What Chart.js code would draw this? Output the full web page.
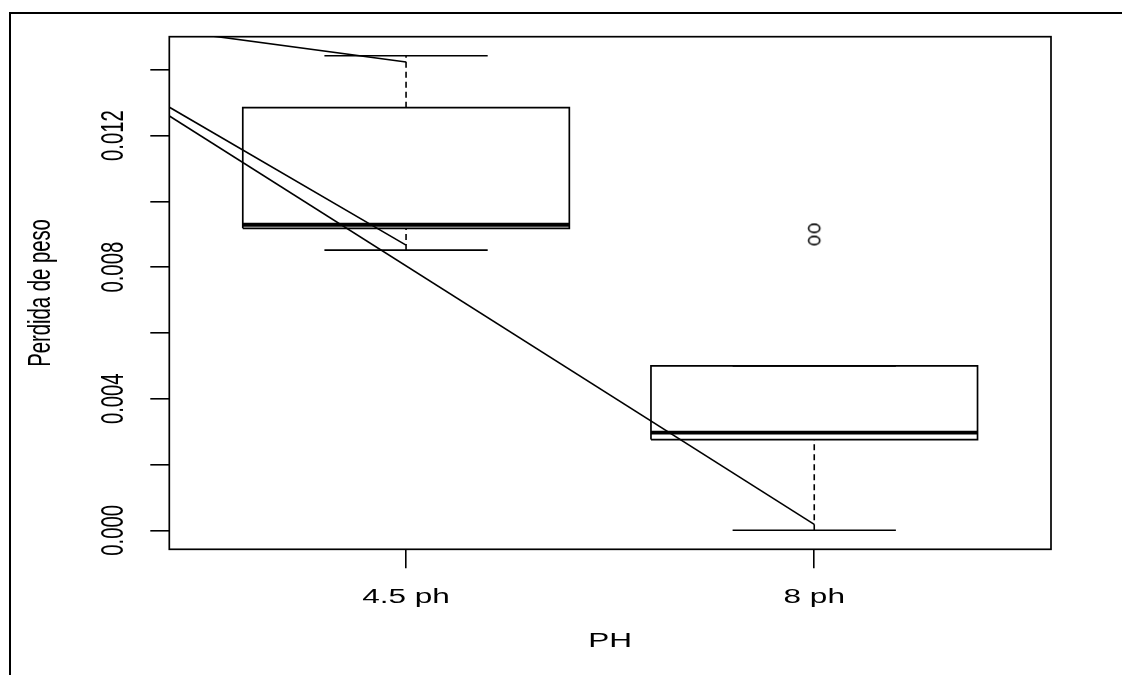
<!DOCTYPE html>
<html>
<head>
<meta charset="utf-8">
<script src="https://cdn.jsdelivr.net/npm/chart.js@4/dist/chart.umd.min.js"></script>
<style>
    body { margin: 0; background: #fff; }
    #wrap { width: 1122px; height: 675px; position: relative; }
</style>
</head>
<body>
<div id="wrap"><canvas id="boxChart"></canvas></div>
<script>
// groups and box statistics
var categories = ['4.5 ph', '8 ph'];
var lowerWhisker = [0.00852, 0.00000];
var lowerQuartile = [0.00918, 0.00276];
var medians = [0.00929, 0.00297];
var upperQuartile = [0.01285, 0.00500];
var upperWhisker = [0.01443, 0.00500];
var outliers = [[], [0.00918, 0.00881]];

// straight lines drawn over the boxes
var lineStartX = 0;
var lineStartY = 0.0159;
var lineEndX = [1, 1, 2];
var lineEndY = [0.01424, 0.00867, 0.00018];

// y axis ticks
var yTicks = [0, 0.002, 0.004, 0.006, 0.008, 0.010, 0.012, 0.014];
var yTickLabels = ['0.000', '', '0.004', '', '0.008', '', '0.012', ''];

var xTitle = 'PH';
var yTitle = 'Perdida de peso';

document.addEventListener('DOMContentLoaded', function () {
    var SX = 1.556; // the picture is stretched sideways
    var FONT = '20.3px "Liberation Sans", Arial, sans-serif';

    // axis limits like R: 4% beyond the data
    var allVals = lowerWhisker.concat(upperWhisker);
    outliers.forEach(function (o) { allVals = allVals.concat(o); });
    var lo = Math.min.apply(null, allVals);
    var hi = Math.max.apply(null, allVals);
    var yMin = lo - 0.04 * (hi - lo);
    var yMax = hi + 0.04 * (hi - lo);
    var xMin = 0.5 - 0.04 * categories.length;
    var xMax = categories.length + 0.5 + 0.04 * categories.length;

    function seg(points, width, dash) {
        return {
            data: points,
            showLine: true,
            borderColor: '#000',
            borderWidth: width,
            borderDash: dash || [],
            pointRadius: 0,
            fill: false,
            tension: 0
        };
    }

    var datasets = [];
    categories.forEach(function (c, i) {
        var x = i + 1;
        var hw = 0.4, cw = 0.2;
        datasets.push(seg([
            { x: x - hw, y: lowerQuartile[i] }, { x: x + hw, y: lowerQuartile[i] },
            { x: x + hw, y: upperQuartile[i] }, { x: x - hw, y: upperQuartile[i] },
            { x: x - hw, y: lowerQuartile[i] }
        ], 1.7));
        datasets.push(seg([{ x: x - hw, y: medians[i] }, { x: x + hw, y: medians[i] }], 3.8));
        if (upperWhisker[i] > upperQuartile[i]) {
            datasets.push(seg([{ x: x, y: upperQuartile[i] }, { x: x, y: upperWhisker[i] }], 1.6, [6, 4]));
        }
        if (lowerWhisker[i] < lowerQuartile[i]) {
            datasets.push(seg([{ x: x, y: lowerWhisker[i] }, { x: x, y: lowerQuartile[i] }], 1.6, [6, 4]));
        }
        datasets.push(seg([{ x: x - cw, y: upperWhisker[i] }, { x: x + cw, y: upperWhisker[i] }], 1.6));
        datasets.push(seg([{ x: x - cw, y: lowerWhisker[i] }, { x: x + cw, y: lowerWhisker[i] }], 1.6));
    });

    // open circles, squashed like the picture
    var ring = document.createElement('canvas');
    ring.width = 16; ring.height = 12;
    var rc = ring.getContext('2d');
    rc.strokeStyle = '#000';
    rc.lineWidth = 1.6;
    rc.beginPath();
    rc.ellipse(8, 6, 5.6, 4.1, 0, 0, Math.PI * 2);
    rc.stroke();

    var outPts = [];
    outliers.forEach(function (o, i) {
        o.forEach(function (v) { outPts.push({ x: i + 1, y: v }); });
    });
    datasets.push({ data: outPts, showLine: false, pointStyle: ring, pointRadius: 6 });

    lineEndX.forEach(function (ex, k) {
        datasets.push(seg([{ x: lineStartX, y: lineStartY }, { x: ex, y: lineEndY[k] }], 1.6));
    });

    function stretchedText(ctx, text, x, y, rotate, baseline) {
        ctx.save();
        ctx.translate(x, y);
        ctx.scale(SX, 1);
        if (rotate) ctx.rotate(-Math.PI / 2);
        ctx.font = FONT;
        ctx.fillStyle = '#000';
        ctx.textAlign = 'center';
        ctx.textBaseline = baseline;
        ctx.fillText(text, 0, 0);
        ctx.restore();
    }

    var framePlugin = {
        id: 'rframe',
        afterDraw: function (chart) {
            var ctx = chart.ctx;
            var a = chart.chartArea;
            var xs = chart.scales.x, ys = chart.scales.y;
            ctx.save();
            // outer figure frame
            ctx.strokeStyle = '#000';
            ctx.lineWidth = 2;
            ctx.beginPath();
            ctx.moveTo(10, 700);
            ctx.lineTo(10, 13);
            ctx.lineTo(1140, 13);
            ctx.stroke();
            // plot box
            ctx.lineWidth = 1.7;
            ctx.strokeRect(a.left, a.top, a.right - a.left, a.bottom - a.top);
            ctx.restore();

            yTicks.forEach(function (v, k) {
                if (yTickLabels[k]) {
                    stretchedText(ctx, yTickLabels[k], a.left - 55, ys.getPixelForValue(v), true, 'middle');
                }
            });
            categories.forEach(function (c, i) {
                stretchedText(ctx, c, xs.getPixelForValue(i + 1), a.bottom + 54, false, 'alphabetic');
            });
            stretchedText(ctx, xTitle, (a.left + a.right) / 2, a.bottom + 98, false, 'alphabetic');
            stretchedText(ctx, yTitle, a.left - 119, (a.top + a.bottom) / 2, true, 'alphabetic');
        }
    };

    var ctxBox = document.getElementById('boxChart').getContext('2d');
    new Chart(ctxBox, {
        type: 'scatter',
        data: { datasets: datasets },
        options: {
            responsive: true,
            maintainAspectRatio: false,
            animation: false,
            events: [],
            layout: { padding: { left: 150.3, right: 71, top: 36.7, bottom: 106.7 } },
            plugins: { legend: { display: false }, tooltip: { enabled: false } },
            scales: {
                x: {
                    type: 'linear',
                    min: xMin,
                    max: xMax,
                    afterBuildTicks: function (scale) {
                        scale.ticks = categories.map(function (c, i) { return { value: i + 1 }; });
                    },
                    afterFit: function (scale) { scale.height = 19; },
                    ticks: { display: false },
                    border: { display: false },
                    grid: { drawOnChartArea: false, drawTicks: true, tickLength: 19, color: '#000', lineWidth: 1.6 }
                },
                y: {
                    type: 'linear',
                    min: yMin,
                    max: yMax,
                    afterBuildTicks: function (scale) {
                        scale.ticks = yTicks.map(function (v) { return { value: v }; });
                    },
                    afterFit: function (scale) { scale.width = 19; },
                    ticks: { display: false },
                    border: { display: false },
                    grid: { drawOnChartArea: false, drawTicks: true, tickLength: 19, color: '#000', lineWidth: 1.6 }
                }
            }
        },
        plugins: [framePlugin]
    });
});
</script>
</body>
</html>
